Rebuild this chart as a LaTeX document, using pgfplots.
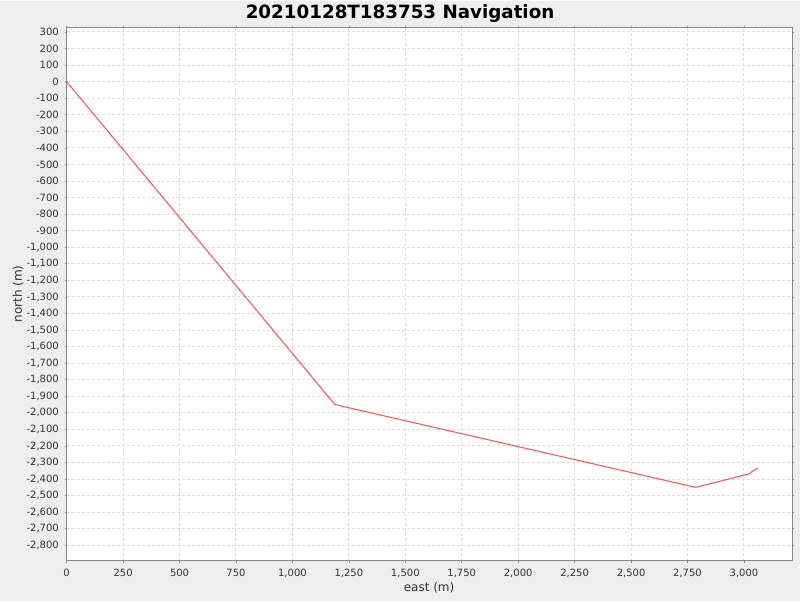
\documentclass[border=0pt]{standalone}
\usepackage{fontspec}
\setmainfont{DejaVu Sans}
\usepackage{pgfplots}
\pgfplotsset{compat=1.18}
\definecolor{bgc}{HTML}{EEEEEE}
\definecolor{trk}{HTML}{FF5555}
\definecolor{gridc}{HTML}{DEDEDE}
\definecolor{axc}{HTML}{888888}
\definecolor{lblc}{HTML}{333333}
\begin{document}
\begin{tikzpicture}
% page background, 800x600 px at 0.75pt per px
\fill[bgc] (0,0) rectangle (600pt,450pt);
\begin{axis}[
    at={(50.0pt,30.5pt)}, anchor=south west,
    scale only axis, width=544.2pt, height=399.75pt,
    xmin=0, xmax=3214, ymin=-2893, ymax=326,
    xtick distance=250, ytick distance=100,
    axis background/.style={fill=white},
    axis line style={axc, line width=0.75pt},
    tick align=outside, major tick length=1.5pt,
    tick style={axc, line width=0.5pt},
    grid=major,
    major grid style={gridc, line width=0.75pt, dash pattern=on 2.25pt off 1.5pt},
    /pgf/number format/assume math mode=true,
    /pgf/number format/fixed,
    /pgf/number format/1000 sep={,},
    ticklabel style={font=\fontsize{7.5}{9}\selectfont, text=lblc, inner sep=0pt},
    xticklabel style={yshift=-4.3pt},
    yticklabel style={xshift=-4.2pt},
    clip=true,
]
\addplot[trk, line width=0.8pt] coordinates {
    (0,0) (1188,-1950) (2786,-2450) (3019,-2370) (3030,-2360)
    (3042,-2350) (3036,-2353) (3050,-2343) (3060,-2334)
};
\end{axis}
\node[font=\bfseries\fontsize{13.7}{16}\selectfont] at (300pt,441pt) {20210128T183753 Navigation};
\node[font=\fontsize{9}{11}\selectfont, text=lblc] at (321.8pt,10pt) {east (m)};
\node[font=\fontsize{9}{11}\selectfont, text=lblc, rotate=90] at (13.5pt,230.5pt) {north (m)};
\end{tikzpicture}
\end{document}
